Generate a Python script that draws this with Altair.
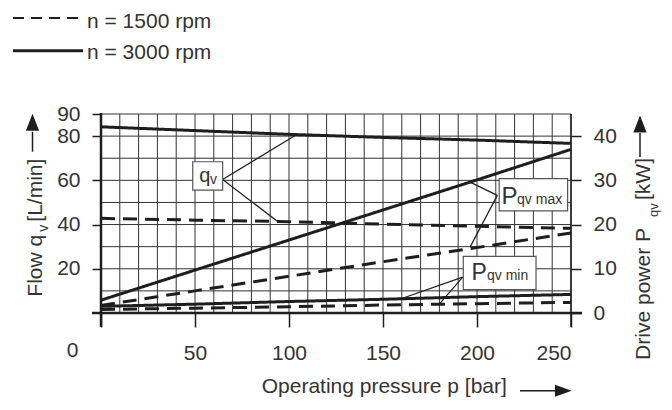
import altair as alt
import pandas as pd

# ---------------- data ----------------
pressure = [0, 50, 100, 150, 200, 250]
flow_3000 = [84.2, 82.5, 80.8, 79.4, 78.2, 76.7]
flow_1500 = [42.8, 42.0, 41.3, 40.2, 39.2, 38.3]
pmax_3000 = [2.9, 9.7, 16.5, 23.3, 30.1, 37.0]
pmax_1500 = [1.7, 5.0, 8.3, 11.6, 14.8, 18.1]
pmin_3000 = [1.5, 2.0, 2.6, 3.1, 3.7, 4.2]
pmin_1500 = [0.8, 1.1, 1.4, 1.8, 2.1, 2.4]

x_ticks = [0, 50, 100, 150, 200, 250]
flow_ticks = [20, 40, 60, 80, 90]
power_ticks = [0, 10, 20, 30, 40]
grid_p = list(range(10, 251, 10))
grid_q = list(range(10, 91, 10))

legend_labels = ["n = 1500 rpm", "n = 3000 rpm"]

FONT = "Liberation Sans, Arial, sans-serif"
INK = "#1e1e1e"
TXT = "#333333"

W, H = 470, 199

xs = alt.Scale(domain=[0, 250], nice=False, zero=False)
qs = alt.Scale(domain=[0, 90], nice=False, zero=False)
ps = alt.Scale(domain=[0, 45], nice=False, zero=False)

x_axis = alt.Axis(values=x_ticks, labelExpr="datum.value == 0 ? '' : datum.label",
                  orient="bottom", tickSize=14, tickWidth=1.5, tickColor=INK, domain=False, grid=False,
                  labelFont=FONT, labelFontSize=21, labelColor=TXT, labelPadding=15)


def X(field):
    # every layer on the pressure scale carries the same axis definition so they merge
    return alt.X(field, scale=xs, axis=x_axis, title=None)


# ---------------- long tables ----------------
def long(series, name, rpm):
    return pd.DataFrame({"p": pressure, "v": series, "curve": name, "rpm": rpm})

flow_df = pd.concat([long(flow_3000, "q3000", "3000"), long(flow_1500, "q1500", "1500")])
power_df = pd.concat([long(pmax_3000, "pmax3000", "3000"), long(pmax_1500, "pmax1500", "1500"),
                      long(pmin_3000, "pmin3000", "3000"), long(pmin_1500, "pmin1500", "1500")])

dash_scale = alt.Scale(domain=["1500", "3000"], range=[[14, 8], [1, 0]])

# grid
grid_v = alt.Chart(pd.DataFrame({"g": grid_p})).mark_rule(color="#333333", strokeWidth=1).encode(
    x=X("g:Q"))
grid_h = alt.Chart(pd.DataFrame({"g": grid_q})).mark_rule(color="#333333", strokeWidth=1).encode(
    y=alt.Y("g:Q", scale=qs, axis=None))

flow_lines = alt.Chart(flow_df).mark_line(color=INK, strokeWidth=3).encode(
    x=X("p:Q"),
    y=alt.Y("v:Q", scale=qs, title=None,
            axis=alt.Axis(values=flow_ticks, orient="left", tickSize=9, tickWidth=1.5, tickColor=INK,
                          domain=False, grid=False, labelFont=FONT, labelFontSize=21,
                          labelColor=TXT, labelPadding=12)),
    strokeDash=alt.StrokeDash("rpm:N", scale=dash_scale, legend=None),
    detail="curve:N")

power_lines = alt.Chart(power_df).mark_line(color=INK, strokeWidth=3).encode(
    x=X("p:Q"),
    y=alt.Y("v:Q", scale=ps, title=None,
            axis=alt.Axis(values=power_ticks, orient="right", tickSize=10, tickWidth=1.5, tickColor=INK,
                          domain=False, grid=False, labelFont=FONT, labelFontSize=21,
                          labelColor=TXT, labelPadding=12)),
    strokeDash=alt.StrokeDash("rpm:N", scale=dash_scale, legend=None),
    detail="curve:N")

# annotation boxes and leaders (data coordinates)
q_leaders = pd.DataFrame({"x1": [64.7, 64.7], "y1": [60.4, 60.4], "x2": [103.7, 94.3], "y2": [80.5, 41.2]})
p_leaders = pd.DataFrame({"x1": [210.8, 210.8, 192.4, 192.4], "y1": [26.6, 26.6, 8.1, 8.1],
                          "x2": [196.3, 196.3, 158.1, 180.3], "y2": [29.6, 14.9, 3.0, 2.2]})
q_box = pd.DataFrame({"x1": [48.8], "x2": [64.7], "y1": [55.6], "y2": [68.4]})
p_box = pd.DataFrame({"x1": [211.8, 192.7], "x2": [248.2, 231.4], "y1": [23.1, 5.3], "y2": [30.4, 12.8]})

q_lead = alt.Chart(q_leaders).mark_rule(color=INK, strokeWidth=1.2).encode(
    x=X("x1:Q"), x2="x2:Q",
    y=alt.Y("y1:Q", scale=qs, axis=None), y2="y2:Q")
p_lead = alt.Chart(p_leaders).mark_rule(color=INK, strokeWidth=1.2).encode(
    x=X("x1:Q"), x2="x2:Q",
    y=alt.Y("y1:Q", scale=ps, axis=None), y2="y2:Q")
q_rect = alt.Chart(q_box).mark_rect(fill="white", stroke="#555555", strokeWidth=1.2).encode(
    x=X("x1:Q"), x2="x2:Q",
    y=alt.Y("y1:Q", scale=qs, axis=None), y2="y2:Q")
p_rect = alt.Chart(p_box).mark_rect(fill="white", stroke="#555555", strokeWidth=1.2).encode(
    x=X("x1:Q"), x2="x2:Q",
    y=alt.Y("y1:Q", scale=ps, axis=None), y2="y2:Q")

q_text_df = pd.DataFrame({"t": ["q", "v"], "x": [52.2, 58.0], "y": [59.4, 58.2], "fs": [20, 14]})
p_text_df = pd.DataFrame({"t": ["P", "qv max", "P", "qv min"], "x": [213.0, 221.3, 197.1, 205.3],
                          "y": [24.75, 24.75, 7.4, 7.4], "fs": [24, 14, 23, 14]})
q_text = alt.Chart(q_text_df).mark_text(font=FONT, color=TXT, align="left", baseline="alphabetic").encode(
    x=X("x:Q"), y=alt.Y("y:Q", scale=qs, axis=None),
    text="t:N", size=alt.Size("fs:Q", scale=None))
p_text = alt.Chart(p_text_df).mark_text(font=FONT, color=TXT, align="left", baseline="alphabetic").encode(
    x=X("x:Q"), y=alt.Y("y:Q", scale=ps, axis=None),
    text="t:N", size=alt.Size("fs:Q", scale=None))

# ---------------- frame, titles, legend (pixel positions around the plot) ----------------
frame_df = pd.DataFrame({"x1": [0, -9, W], "x2": [0, W + 11, W], "y1": [-1, H, 0], "y2": [213, H, 213],
                         "sw": [2.5, 2.5, 1.5]})
frame = alt.Chart(frame_df).mark_rule(color=INK).encode(
    x=alt.X("x1:Q", scale=None, axis=None), x2="x2:Q",
    y=alt.Y("y1:Q", scale=None, axis=None), y2="y2:Q",
    strokeWidth=alt.StrokeWidth("sw:Q", scale=None))

stems_df = pd.DataFrame({"x1": [-68.5, 539, 419], "x2": [-68.5, 539, 455], "y1": [37.7, 43, 276.7],
                         "y2": [17.7, 19, 276.7]})
stems = alt.Chart(stems_df).mark_rule(color=INK, strokeWidth=1.5).encode(
    x=alt.X("x1:Q", scale=None, axis=None), x2="x2:Q",
    y=alt.Y("y1:Q", scale=None, axis=None), y2="y2:Q")

up_arrows = alt.Chart(pd.DataFrame({"x": [-68.5, 539], "y": [8.3, 10]})).mark_point(
    shape="M-0.78,1L0.78,1L0,-1Z", filled=True, size=289, color=INK, opacity=1).encode(
    x=alt.X("x:Q", scale=None, axis=None), y=alt.Y("y:Q", scale=None, axis=None))
right_arrow = alt.Chart(pd.DataFrame({"x": [462.3], "y": [276.7]})).mark_point(
    shape="M-1,-0.72L-1,0.72L1,0Z", filled=True, size=279, color=INK, opacity=1).encode(
    x=alt.X("x:Q", scale=None, axis=None), y=alt.Y("y:Q", scale=None, axis=None))

left_txt_df = pd.DataFrame({
    "t": ["Flow q", "v", "[L/min]", "qv", "[kW]", "Operating pressure p [bar]"],
    "x": [-59.5, -53, -59.5, 557, 549, 160.7],
    "y": [182.7, 117.7, 107.7, 103, 86, 279.3],
    "a": [270, 270, 270, 270, 270, 0],
    "fs": [21, 14, 21, 13, 21, 21]})
left_txt = alt.Chart(left_txt_df).mark_text(font=FONT, color=TXT, align="left", baseline="alphabetic").encode(
    x=alt.X("x:Q", scale=None, axis=None), y=alt.Y("y:Q", scale=None, axis=None),
    text="t:N", angle=alt.Angle("a:Q", scale=None), size=alt.Size("fs:Q", scale=None))
right_txt = alt.Chart(pd.DataFrame({"t": ["Drive power P"], "x": [549], "y": [114]})).mark_text(
    font=FONT, color=TXT, align="right", baseline="alphabetic", angle=270, fontSize=21).encode(
    x=alt.X("x:Q", scale=None, axis=None), y=alt.Y("y:Q", scale=None, axis=None), text="t:N")
zero_txt = alt.Chart(pd.DataFrame({"t": ["0"], "x": [-28.5], "y": [237]})).mark_text(
    font=FONT, color=TXT, align="center", baseline="middle", fontSize=21).encode(
    x=alt.X("x:Q", scale=None, axis=None), y=alt.Y("y:Q", scale=None, axis=None), text="t:N")

leg_dash = alt.Chart(pd.DataFrame({"x1": [-88], "x2": [-18], "y": [-96]})).mark_rule(
    color=INK, strokeWidth=2, strokeDash=[11, 7]).encode(
    x=alt.X("x1:Q", scale=None, axis=None), x2="x2:Q", y=alt.Y("y:Q", scale=None, axis=None))
leg_solid = alt.Chart(pd.DataFrame({"x1": [-88], "x2": [-18], "y": [-63.3]})).mark_rule(
    color=INK, strokeWidth=3).encode(
    x=alt.X("x1:Q", scale=None, axis=None), x2="x2:Q", y=alt.Y("y:Q", scale=None, axis=None))
leg_txt = alt.Chart(pd.DataFrame({"t": legend_labels, "x": [-14, -14], "y": [-86.3, -54.7]})).mark_text(
    font=FONT, color=TXT, align="left", baseline="alphabetic", fontSize=21).encode(
    x=alt.X("x:Q", scale=None, axis=None), y=alt.Y("y:Q", scale=None, axis=None), text="t:N")

chart = alt.layer(
    grid_v, grid_h, flow_lines, power_lines, q_lead, p_lead, q_rect, p_rect, q_text, p_text,
    frame, stems, up_arrows, right_arrow, left_txt, right_txt, zero_txt, leg_dash, leg_solid, leg_txt
).resolve_scale(y="independent").properties(
    width=W, height=H,
    autosize=alt.AutoSizeParams(type="none"),
    padding={"left": 93, "top": 106, "right": 93, "bottom": 89},
    background="white",
).configure_view(stroke=None)

chart.save("out.html", embed_options={"renderer": "svg", "actions": False})
